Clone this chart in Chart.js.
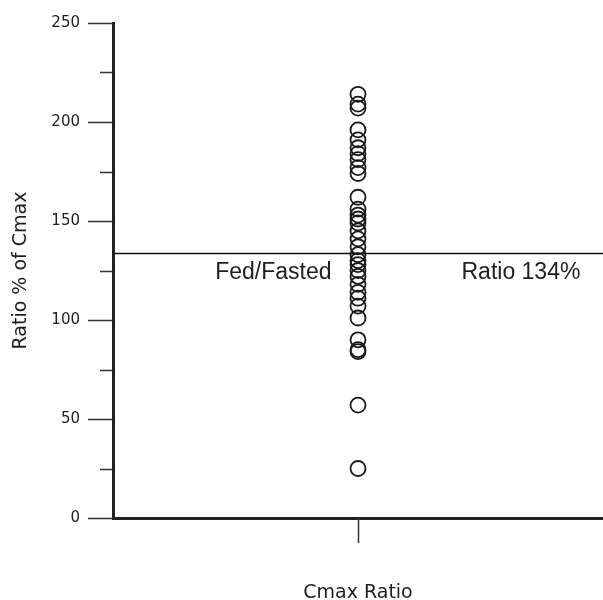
<!DOCTYPE html>
<html>
<head>
<meta charset="utf-8">
<script src="https://cdn.jsdelivr.net/npm/chart.js@4/dist/chart.umd.min.js"></script>
<style>
  html, body { margin: 0; padding: 0; background: #fff; }
  #wrap { width: 603px; height: 600px; }
</style>
</head>
<body>
<div id="wrap"><canvas id="c" width="603" height="600"></canvas></div>
<script>
// Individual subject Cmax ratios (fed / fasted, %)
const cmaxRatios = [214, 209, 207, 196, 191, 187, 184, 181, 177, 174, 162, 156, 153, 151, 149,
                    145, 141, 137, 133, 130, 128, 125, 122, 118, 114, 111, 107, 101, 90, 85, 84, 57, 25];
const categoryPosition = 1;          // single category in the middle of the x range
const meanRatio = 134;               // overall fed/fasted ratio
const leftLabel = 'Fed/Fasted';
const rightLabel = 'Ratio 134%';
const majorTicks = [0, 50, 100, 150, 200, 250];
const minorTicks = [25, 75, 125, 175, 225];

const ink = '#1e1e1e';

// Tick marks, reference line and its labels
const decorations = {
  id: 'decorations',
  afterDraw(chart) {
    const ctx = chart.ctx;
    const y = chart.scales.y;
    const x = chart.scales.x;
    const area = chart.chartArea;
    ctx.save();
    ctx.strokeStyle = '#333';
    ctx.lineWidth = 1.5;
    ctx.beginPath();
    majorTicks.forEach(v => {
      const py = Math.round(y.getPixelForValue(v)) + 0.5;
      ctx.moveTo(area.left - 25, py);
      ctx.lineTo(area.left, py);
    });
    minorTicks.forEach(v => {
      const py = Math.round(y.getPixelForValue(v)) + 0.5;
      ctx.moveTo(area.left - 13, py);
      ctx.lineTo(area.left, py);
    });
    const px = Math.round(x.getPixelForValue(categoryPosition)) + 0.5;
    ctx.moveTo(px, area.bottom);
    ctx.lineTo(px, area.bottom + 25);
    ctx.stroke();

    // reference line
    const ly = Math.round(y.getPixelForValue(meanRatio)) + 0.5;
    ctx.strokeStyle = '#111';
    ctx.lineWidth = 1.3;
    ctx.beginPath();
    ctx.moveTo(area.left, ly);
    ctx.lineTo(area.right, ly);
    ctx.stroke();

    ctx.fillStyle = ink;
    ctx.font = '23px "Liberation Sans", Arial, sans-serif';
    ctx.textBaseline = 'middle';
    ctx.textAlign = 'right';
    ctx.fillText(leftLabel, px - 27, ly + 19);
    ctx.textAlign = 'left';
    ctx.fillText(rightLabel, px + 103, ly + 19);
    ctx.restore();
  }
};

new Chart(document.getElementById('c'), {
  type: 'scatter',
  data: {
    datasets: [{
      data: cmaxRatios.map(v => ({ x: categoryPosition, y: v })),
      pointStyle: 'circle',
      pointRadius: 7.5,
      pointHoverRadius: 7.5,
      borderWidth: 1.8,
      borderColor: '#1a1a1a',
      backgroundColor: 'rgba(0,0,0,0)'
    }]
  },
  options: {
    responsive: false,
    animation: false,
    events: [],
    layout: { autoPadding: false, padding: { top: 23, right: 0, left: 0, bottom: 0 } },
    plugins: { legend: { display: false }, tooltip: { enabled: false } },
    scales: {
      x: {
        type: 'linear',
        min: 0,
        max: 2,
        grid: { display: false, drawTicks: false },
        border: { display: true, width: 3, color: '#222' },
        ticks: { display: false },
        title: {
          display: true,
          text: 'Cmax Ratio',
          color: ink,
          font: { family: '"DejaVu Sans", Verdana, sans-serif', size: 19, lineHeight: 1 },
          padding: { top: 0, bottom: -3 }
        },
        afterFit(scale) { scale.height = 82; }
      },
      y: {
        min: 0,
        max: 250,
        grid: { display: false, drawTicks: false },
        border: { display: true, width: 3, color: '#222' },
        ticks: {
          stepSize: 50,
          padding: 33,
          color: ink,
          font: { family: '"DejaVu Sans", Verdana, sans-serif', size: 15 }
        },
        title: {
          display: true,
          text: 'Ratio % of Cmax',
          color: ink,
          font: { family: '"DejaVu Sans", Verdana, sans-serif', size: 19, lineHeight: 1 },
          padding: { top: 12, bottom: 0 }
        },
        afterFit(scale) {
          scale.width = 113;
          scale.paddingTop = 0;
          scale.paddingBottom = 0;
        }
      }
    }
  },
  plugins: [decorations]
});
</script>
</body>
</html>
